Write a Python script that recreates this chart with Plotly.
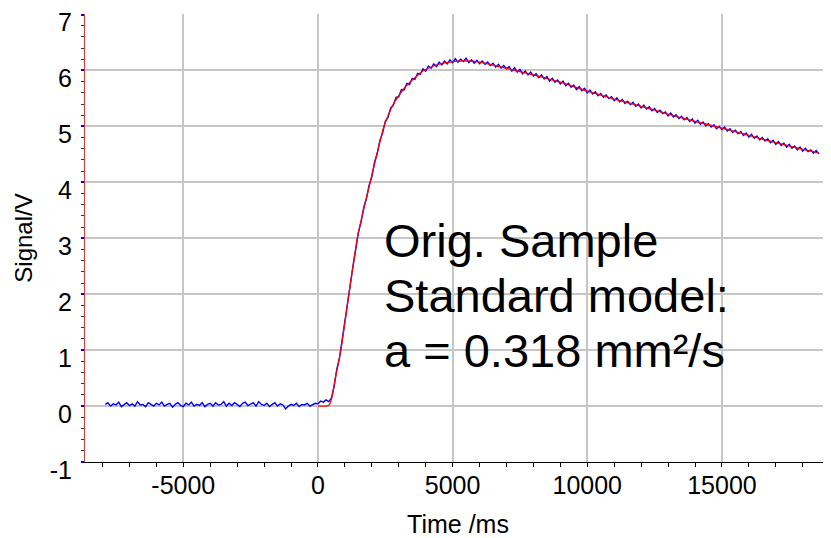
import numpy as np
import plotly.graph_objects as go

# ---- data ----
# measured signal before the laser shot, one sample every 100 ms starting at -7900 ms
baseline_start_ms = -7900
baseline_V = [
    0.03, 0.06, 0.00, 0.04, 0.02, 0.07, -0.01, 0.03, 0.06, 0.01,
    0.04, 0.00, 0.08, 0.02, 0.03, -0.01, 0.06, 0.03, 0.00, 0.05,
    0.02, 0.07, 0.00, 0.03, 0.05, -0.02, 0.03, 0.06, 0.01, -0.01,
    0.05, 0.02, 0.07, 0.00, 0.03, 0.01, 0.06, -0.01, 0.03, 0.05,
    0.00, 0.06, 0.02, 0.03, 0.08, 0.00, 0.05, 0.01, 0.06, 0.03,
    -0.01, 0.05, 0.07, 0.01, 0.03, 0.06, 0.00, 0.08, 0.03, 0.01,
    0.05, -0.01, 0.03, 0.06, 0.00, 0.04, 0.02, -0.05, 0.00, 0.03,
    0.01, 0.05, -0.01, 0.03, 0.02, 0.05, 0.00, 0.03, 0.05,
]
# measured signal after the shot, one sample every 100 ms starting at 0 ms
response_start_ms = 0
response_V = [
    0.04, 0.09, 0.07, 0.11, 0.08,
    0.14, 0.35, 0.66, 0.86, 1.20, 1.48, 1.85, 2.14, 2.50, 2.79,
    3.10, 3.29, 3.55, 3.71, 3.95, 4.10, 4.36, 4.51, 4.75, 4.88,
    5.09, 5.16, 5.33, 5.38, 5.52, 5.53, 5.66, 5.65, 5.77, 5.75,
    5.86, 5.84, 5.95, 5.93, 6.03, 5.99, 6.08, 6.04, 6.12, 6.07,
    6.15, 6.10, 6.17, 6.12, 6.19, 6.14, 6.21, 6.15, 6.20, 6.16,
    6.22, 6.14, 6.19, 6.13, 6.18, 6.12, 6.17, 6.11, 6.15, 6.09,
    6.13, 6.06, 6.11, 6.04, 6.09, 6.03, 6.07, 5.99, 6.05, 5.97,
    6.02, 5.94, 5.99, 5.92, 5.97, 5.90, 5.94, 5.87, 5.92, 5.85,
    5.89, 5.81, 5.86, 5.79, 5.83, 5.76, 5.81, 5.73, 5.77, 5.70,
    5.74, 5.66, 5.71, 5.64, 5.68, 5.60, 5.65, 5.58, 5.62, 5.55,
    5.59, 5.52, 5.56, 5.50, 5.53, 5.46, 5.51, 5.44, 5.48, 5.41,
    5.45, 5.39, 5.43, 5.36, 5.40, 5.33, 5.38, 5.31, 5.35, 5.28,
    5.32, 5.25, 5.29, 5.23, 5.26, 5.19, 5.24, 5.17, 5.21, 5.14,
    5.18, 5.12, 5.16, 5.09, 5.13, 5.06, 5.11, 5.04, 5.08, 5.01,
    5.05, 4.99, 5.03, 4.96, 5.00, 4.94, 4.99, 4.92, 4.96, 4.89,
    4.93, 4.87, 4.91, 4.84, 4.88, 4.81, 4.86, 4.79, 4.83, 4.76,
    4.80, 4.74, 4.78, 4.71, 4.75, 4.68, 4.73, 4.66, 4.70, 4.63,
    4.68, 4.61, 4.65, 4.58, 4.63, 4.56, 4.61, 4.55, 4.58, 4.52,
    4.57, 4.51,
]
sample_step_ms = 100

# standard-model fit curve
fit_t_ms = [0, 300, 420, 520, 630, 850, 1150, 1460, 1700, 1950, 2200, 2450,
            2800, 3230, 3600, 3900, 4300, 4650, 5000, 5500, 6000, 6650, 7500,
            8250, 9000, 10000, 11000, 12000, 13000, 14000, 15000, 16000,
            17000, 18000, 18550]
fit_V = [0.0, 0.0, 0.02, 0.16, 0.46, 1.0, 2.0, 3.0, 3.52, 4.02, 4.53, 5.0,
         5.40, 5.70, 5.87, 5.99, 6.08, 6.13, 6.16, 6.17, 6.15, 6.08, 5.98,
         5.89, 5.79, 5.63, 5.49, 5.36, 5.22, 5.09, 4.97, 4.84,
         4.71, 4.59, 4.53]

x_ticks = [-5000, 0, 5000, 10000, 15000]
y_ticks = [-1, 0, 1, 2, 3, 4, 5, 6, 7]
note_lines = ["Orig. Sample", "Standard model:", "a = 0.318 mm²/s"]

# ---- build ----
t_meas = np.concatenate([
    baseline_start_ms + sample_step_ms * np.arange(len(baseline_V)),
    response_start_ms + sample_step_ms * np.arange(len(response_V)),
])
v_meas = np.array(baseline_V + response_V)

FONT = "Liberation Sans, Arial, sans-serif"

fig = go.Figure()
fig.add_trace(go.Scatter(x=t_meas, y=v_meas, mode="lines",
                         line=dict(color="#0000ff", width=1.4),
                         showlegend=False, hoverinfo="skip"))
fig.add_trace(go.Scatter(x=fit_t_ms, y=fit_V, mode="lines",
                         line=dict(color="#ff0000", width=1.3, shape="spline", smoothing=0.5),
                         showlegend=False, hoverinfo="skip"))

note_y = [2.96, 1.98, 0.99]
for txt, yy in zip(note_lines, note_y):
    fig.add_annotation(x=2380, y=yy, xref="x", yref="y", text=txt,
                       showarrow=False, xanchor="left", yanchor="middle",
                       font=dict(family=FONT, size=47, color="black"))

grid_col = "#c6c6c6"
# the page body adds an 8 px margin, so the figure is 8 px smaller on each side
fig.update_layout(
    width=823, height=530,
    margin=dict(l=77, r=0, t=6, b=76, autoexpand=False),
    paper_bgcolor="white", plot_bgcolor="white",
    font=dict(family=FONT, color="black"),
    xaxis=dict(
        range=[-8650, 19050], tickmode="array", tickvals=x_ticks,
        ticktext=[str(v) for v in x_ticks], automargin=False,
        showgrid=True, gridcolor=grid_col, gridwidth=1.6, zeroline=False,
        showline=True, linecolor="black", linewidth=1,
        ticks="outside", ticklen=4, tickcolor="black", tickwidth=1,
        minor=dict(dtick=1000, tick0=0, ticks="outside", ticklen=4,
                   tickcolor="black", tickwidth=1, showgrid=False),
        tickfont=dict(size=25, family=FONT, color="black"),
        ticklabelstandoff=-3,
        title=dict(text="Time /ms", font=dict(size=25, family=FONT, color="black"),
                   standoff=18),
    ),
    yaxis=dict(
        range=[-1, 7.01], tickmode="array", tickvals=y_ticks,
        ticktext=[str(v) for v in y_ticks], automargin=False,
        showgrid=True, gridcolor=grid_col, gridwidth=1.6, zeroline=False,
        showline=True, linecolor="#d83a3a", linewidth=1,
        ticks="outside", ticklen=3, tickcolor="#0000ff", tickwidth=1.5,
        minor=dict(dtick=0.2, tick0=0, ticks="outside", ticklen=3,
                   tickcolor="#333333", tickwidth=1, showgrid=False),
        tickfont=dict(size=25, family=FONT, color="black"),
        ticklabelshift=8, ticklabelstandoff=4, ticklabeloverflow="allow",
        title=dict(text="Signal/V", font=dict(size=24, family=FONT, color="black"),
                   standoff=10),
    ),
)

fig.write_html("out.html")
